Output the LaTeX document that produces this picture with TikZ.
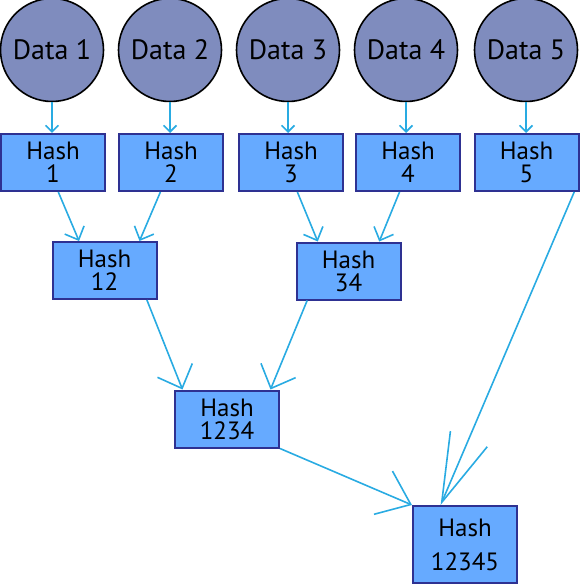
\documentclass[tikz,border=0pt]{standalone}
\usepackage{fontspec}
\setmainfont{PT Sans}
\usetikzlibrary{arrows.meta,calc}
\definecolor{circfill}{RGB}{127,140,190}
\definecolor{boxfill}{RGB}{102,170,255}
\definecolor{boxline}{RGB}{46,49,146}
\definecolor{arrowc}{RGB}{41,171,226}
\tikzset{
  datanode/.style={circle,draw=black,line width=1.6pt,fill=circfill,minimum size=103pt,inner sep=0pt,
    font=\fontsize{28}{30}\selectfont},
  hashnode/.style={rectangle,draw=boxline,line width=2pt,fill=boxfill,minimum width=104pt,minimum height=57pt,
    inner sep=0pt,align=center,font=\fontsize{25}{23}\selectfont},
  conn/.style={draw=arrowc,line width=1.6pt},
}
\begin{document}
\begin{tikzpicture}[x=1pt,y=-1pt]
\useasboundingbox (0,0) rectangle (580,585);
% data
\node[datanode] (d1) at (52,50) {Data 1};
\node[datanode] (d2) at (170,50) {Data 2};
\node[datanode] (d3) at (288,50) {Data 3};
\node[datanode] (d4) at (406,50) {Data 4};
\node[datanode] (d5) at (526,50) {Data 5};
% hash row
\node[hashnode] (h1) at (53,162.5) {Hash\\1};
\node[hashnode] (h2) at (171,162.5) {Hash\\2};
\node[hashnode] (h3) at (291,162.5) {Hash\\3};
\node[hashnode] (h4) at (408,162.5) {Hash\\4};
\node[hashnode] (h5) at (526.5,162.5) {Hash\\5};
\node[hashnode] (h12) at (104.5,270.5) {Hash\\12};
\node[hashnode] (h34) at (348.5,271) {Hash\\34};
\node[hashnode] (h1234) at (227,419) {Hash\\1234};
\node[hashnode,minimum height=77pt,font=\fontsize{25}{34}\selectfont] (h12345) at (465,544.5) {Hash\\12345};
% data -> hash
\foreach \i in {1,...,5}{
  \draw[conn,-{Straight Barb[length=6.5pt,width=13pt]}] (d\i.south) -- (d\i.south |- h\i.north);
}
% level 1
\draw[conn,-{Straight Barb[length=10.8pt,width=21pt]}]
  ($(h1.south west)!0.55!(h1.south east)$) -- ($(h12.north west)!0.26!(h12.north east)$);
\draw[conn,-{Straight Barb[length=10.8pt,width=21pt]}]
  ($(h2.south west)!0.40!(h2.south east)$) -- ($(h12.north west)!0.83!(h12.north east)$);
\draw[conn,-{Straight Barb[length=10.8pt,width=21pt]}]
  ($(h3.south west)!0.56!(h3.south east)$) -- ($(h34.north west)!0.21!(h34.north east)$);
\draw[conn,-{Straight Barb[length=10.8pt,width=21pt]}]
  ($(h4.south west)!0.42!(h4.south east)$) -- ($(h34.north west)!0.79!(h34.north east)$);
% level 2
\draw[conn,-{Straight Barb[length=19.4pt,width=37.5pt]}]
  ($(h12.south west)!0.90!(h12.south east)$) -- ($(h1234.north west)!0.08!(h1234.north east)$);
\draw[conn,-{Straight Barb[length=19.4pt,width=37.5pt]}]
  ($(h34.south west)!0.11!(h34.south east)$) -- ($(h1234.north west)!0.91!(h1234.north east)$);
% level 3
\draw[conn,-{Straight Barb[length=30pt,width=47pt]}]
  (h1234.south east) -- (h12345.north west);
\draw[conn,-{Straight Barb[length=69pt,width=40pt]}]
  ($(h5.south west)!0.95!(h5.south east)$) -- ($(h12345.north west)!0.27!(h12345.north east)$);
\end{tikzpicture}
\end{document}
